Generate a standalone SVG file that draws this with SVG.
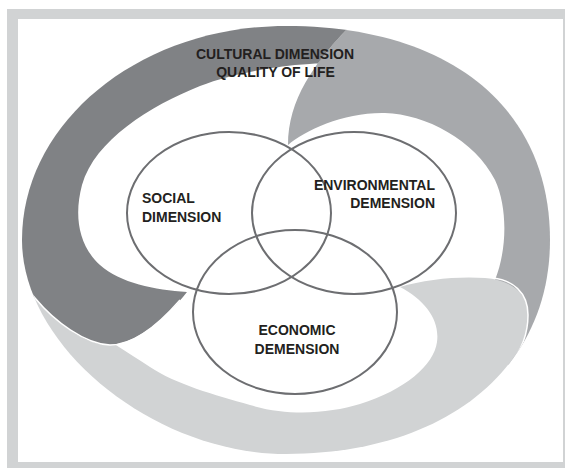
<svg xmlns="http://www.w3.org/2000/svg" width="565" height="468" viewBox="0 0 565 468">
  <style>
    .lbl { font-family: "Liberation Sans", Arial, sans-serif; font-weight: bold; font-size: 14px; fill: #231f20; }
    .venn { fill: none; stroke: #6d6e71; stroke-width: 2; }
    .dark { fill: #808285; }
    .mid { fill: #a7a9ac; }
    .light { fill: #d1d3d4; }
    .sep { fill: none; stroke: #ffffff; stroke-width: 1.5; }
  </style>
  <defs>
    <!-- outer boundary of the cultural ring -->
    <clipPath id="ringClip">
      <path d="M 22,240 C 22,121.8 140.2,26 286,26 C 449.7,26 550,107.3 550,240 C 550,370 444.4,454 286,454 C 154,454 22,347 22,240 Z"/>
    </clipPath>
  </defs>

  <!-- frame -->
  <g id="frame">
    <rect x="7" y="9" width="570" height="470" fill="#d1d3d4"/>
    <rect x="18" y="19" width="545" height="443" fill="#ffffff"/>
  </g>

  <!-- cultural dimension: three swirling bands -->
  <g id="cultural-ring" clip-path="url(#ringClip)">
    <path id="band-mid" class="mid" d="M 362,14 C 320,55 288,95 288,145 C 305,130 345,112 385,113 C 425,114 475,140 495,180 C 508,208 507,250 495,280 L 505,300 L 512,330 L 505,360 L 540,420 L 600,420 L 600,0 L 370,0 Z"/>
    <path id="band-light" class="light" d="M 400,287 C 425,279 460,276 485,278 C 510,280 528,292 528,315 C 528,335 520,352 510,364 L 565,385 L 565,480 L 0,480 L 0,280 L 75,318 C 100,335 130,354 150,367 C 175,384 215,395 250,405 C 290,417 330,413 360,404 C 405,390 434,365 437,342 C 440,320 425,300 400,287 Z"/>
    <path class="sep" d="M 493,278 C 512,280 528,292 528,315 C 528,335 520,352 510,364"/>
    <path id="band-dark" class="dark" d="M 380,0 L 362,14 C 345.2,30.4 330,46.6 317.8,63.4 C 296,64 240,70 200,86 C 150,106 95,140 82,185 C 74,215 78,245 100,265 C 120,283 155,290 187,292 C 165,320 135,344 110,345 C 85,345 55,322 35,298 L 0,280 L 0,0 Z"/>
    <path class="sep" d="M 30,292 L 35,298 C 55,322 85,344 110,345 C 135,345 160,323 180,300"/>
  </g>

  <g id="cultural-label">
    <text class="lbl" x="275" y="59" text-anchor="middle">CULTURAL DIMENSION</text>
    <text class="lbl" x="275.5" y="77" text-anchor="middle">QUALITY OF LIFE</text>
  </g>

  <g id="social">
    <ellipse class="venn" cx="229" cy="213" rx="102" ry="81"/>
    <text class="lbl" x="142" y="203">SOCIAL</text>
    <text class="lbl" x="142" y="222">DIMENSION</text>
  </g>

  <g id="environmental">
    <ellipse class="venn" cx="354" cy="213" rx="102" ry="81"/>
    <text class="lbl" x="435" y="190" text-anchor="end">ENVIRONMENTAL</text>
    <text class="lbl" x="435" y="208" text-anchor="end">DEMENSION</text>
  </g>

  <g id="economic">
    <ellipse class="venn" cx="295" cy="312" rx="102" ry="82"/>
    <text class="lbl" x="297" y="335" text-anchor="middle">ECONOMIC</text>
    <text class="lbl" x="297" y="354" text-anchor="middle">DEMENSION</text>
  </g>
</svg>
